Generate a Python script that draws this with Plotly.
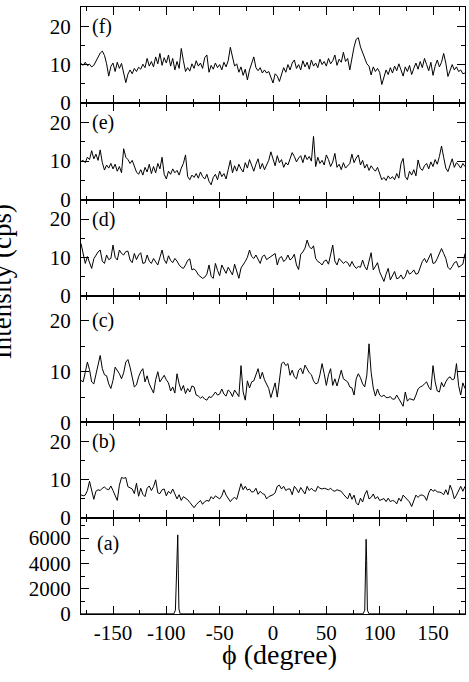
import numpy as np
import plotly.graph_objects as go

# ---------------- data ----------------
phi = np.arange(-180, 181, 2)  # 2-degree sampling grid

intensity_f = [
    10.3, 9.8, 10.6, 9.7, 10.1, 9.4, 9.8, 10.9, 12.0, 13.0,
    13.5, 12.4, 10.2, 7.0, 9.5, 10.4, 8.2, 10.6, 9.0, 10.3,
    7.8, 5.3, 7.5, 8.6, 7.6, 9.0, 8.2, 9.3, 8.8, 10.1,
    9.2, 11.6, 9.6, 10.8, 9.4, 12.0, 10.2, 12.9, 9.8, 11.8,
    10.4, 12.5, 9.6, 11.6, 8.6, 10.8, 9.0, 14.2, 11.0, 8.2,
    9.2, 8.3, 10.2, 9.0, 11.0, 9.6, 10.4, 9.0, 11.8, 12.5,
    8.0, 9.8, 8.8, 10.4, 9.2, 10.0, 8.6, 10.6, 9.4, 11.0,
    14.5, 12.2, 9.6, 10.2, 8.0, 9.4, 7.2, 8.8, 6.0, 8.6,
    10.6, 12.0, 9.2, 8.4, 9.2, 7.8, 8.6, 7.8, 8.2, 6.8,
    5.2, 7.6, 7.0, 5.6, 7.4, 9.2, 8.0, 10.0, 8.6, 10.4,
    11.2, 9.0, 10.0, 8.6, 11.0, 9.4, 10.6, 8.8, 11.2, 9.6,
    10.4, 9.2, 11.4, 10.0, 10.8, 9.6, 11.6, 10.2, 11.0, 12.5,
    9.8, 11.4, 10.6, 13.2, 10.8, 11.6, 8.6, 12.0, 14.6, 16.6,
    17.0, 14.6, 13.0, 11.4, 10.2, 9.6, 7.3, 9.4, 8.2, 9.0,
    8.0, 4.8, 6.8, 8.6, 7.4, 9.2, 7.8, 9.6, 8.4, 10.2,
    8.6, 7.0, 9.4, 8.2, 9.8, 7.4, 9.0, 10.4, 8.8, 10.8,
    9.2, 11.6, 10.0, 8.4, 10.6, 7.2, 9.6, 11.2, 9.4, 10.6,
    12.9, 10.4, 6.9, 8.8, 10.0, 8.6, 9.4, 8.2, 8.6, 7.6,
    7.8,
]

intensity_e = [
    9.9, 10.2, 9.6, 11.0, 10.4, 12.7, 10.6, 11.8, 10.2, 12.9,
    9.6, 7.7, 9.0, 8.2, 9.4, 8.0, 9.2, 7.4, 8.6, 7.0,
    13.2, 11.0, 10.4, 9.4, 10.2, 8.6, 7.2, 6.6, 7.8, 6.4,
    8.4, 7.2, 9.2, 6.8, 8.6, 7.0, 9.4, 8.0, 11.0, 6.6,
    5.4, 7.4, 6.6, 8.0, 7.0, 7.6, 6.4, 8.2, 9.4, 11.6,
    6.0, 5.2, 6.4, 5.8, 6.8, 5.6, 7.2, 6.0, 5.4, 6.6,
    4.8, 3.9, 5.8, 6.6, 5.2, 7.4, 6.0, 6.8, 5.4, 7.8,
    10.2, 7.0, 8.8, 7.4, 9.2, 8.0, 7.2, 9.6, 8.2, 10.4,
    8.6, 7.4, 9.2, 10.6, 8.0, 9.4, 7.8, 9.0, 10.2, 12.4,
    10.6, 8.8, 11.4, 9.6, 10.4, 8.4, 9.6, 9.0, 10.6, 12.2,
    11.2, 9.8, 10.8, 11.4, 9.6, 11.6, 10.4, 11.2, 10.0, 16.4,
    8.6, 11.0, 9.4, 10.2, 9.0, 11.6, 10.4, 8.6, 9.8, 12.0,
    8.4, 9.2, 7.8, 9.6, 8.2, 8.8, 9.4, 11.8, 9.6, 10.8,
    11.6, 9.0, 10.2, 8.2, 9.2, 7.6, 8.8, 8.0, 7.4, 8.4,
    6.6, 5.2, 5.8, 5.0, 6.2, 5.4, 6.0, 5.2, 6.8, 5.6,
    9.4, 10.7, 6.0, 5.2, 7.4, 6.4, 7.8, 6.2, 10.3, 8.2,
    7.6, 8.8, 9.4, 8.0, 9.8, 8.6, 10.4, 9.2, 11.2, 13.9,
    11.0, 8.2, 7.3, 9.0, 10.6, 8.4, 9.6, 9.0, 8.2, 9.4,
    8.6,
]

intensity_d = [
    13.6, 11.0, 8.4, 10.2, 8.8, 7.1, 9.6, 10.6, 11.4, 11.9,
    9.0, 8.4, 10.6, 9.4, 9.7, 13.2, 10.0, 9.3, 11.9, 11.0,
    10.6, 11.5, 11.6, 9.3, 8.6, 11.0, 9.4, 10.6, 11.2, 8.4,
    8.6, 10.6, 9.0, 8.4, 9.7, 8.8, 8.0, 10.0, 11.9, 9.4,
    8.4, 10.4, 9.2, 8.6, 9.7, 9.0, 8.0, 7.4, 7.1, 8.0,
    9.2, 9.6, 6.7, 7.0, 6.4, 5.4, 5.0, 4.5, 4.8, 5.6,
    8.0, 5.0, 4.5, 8.4, 6.6, 5.2, 8.0, 7.0, 5.8, 7.4,
    6.2, 5.4, 8.2, 6.4, 4.5, 7.2, 8.0, 8.9, 10.0, 11.9,
    10.2, 9.7, 10.6, 9.6, 8.4, 10.2, 10.6, 9.4, 9.8, 10.2,
    10.8, 11.0, 8.0, 9.8, 10.2, 8.9, 9.4, 10.6, 9.3, 9.8,
    10.8, 8.0, 6.8, 10.8, 11.4, 12.4, 14.5, 12.8, 12.2, 13.0,
    9.7, 8.9, 8.6, 8.0, 9.0, 9.3, 8.2, 10.6, 13.2, 9.0,
    8.0, 9.7, 9.0, 8.4, 8.9, 8.6, 7.6, 8.9, 7.8, 7.1,
    7.6, 7.4, 9.3, 7.6, 6.7, 9.0, 11.2, 6.7, 7.6, 8.6,
    6.2, 5.0, 3.7, 5.6, 7.1, 4.1, 5.4, 6.3, 4.4, 4.6,
    5.4, 4.3, 5.0, 6.7, 5.6, 6.0, 6.7, 5.6, 5.8, 7.2,
    8.9, 9.7, 8.6, 9.8, 11.0, 8.4, 8.6, 9.7, 11.0, 12.3,
    11.0, 9.7, 7.4, 6.8, 7.6, 8.6, 8.9, 7.4, 7.8, 8.2,
    11.0,
]

intensity_c = [
    8.3, 8.0, 9.9, 11.9, 10.4, 8.0, 7.6, 9.5, 11.1, 13.2,
    10.6, 9.4, 9.2, 7.6, 6.7, 8.3, 10.9, 10.3, 9.6, 8.6,
    9.8, 11.9, 12.4, 10.9, 8.6, 7.0, 7.4, 9.0, 10.0, 10.6,
    8.0, 9.2, 7.6, 6.6, 5.8, 8.4, 10.0, 8.0, 8.6, 9.3,
    8.4, 7.8, 6.2, 7.0, 5.8, 9.6, 7.6, 6.3, 7.3, 5.7,
    6.7, 6.0, 7.2, 7.0, 5.4, 5.2, 4.8, 5.1, 4.6, 4.4,
    5.1, 4.9, 5.4, 6.0, 5.4, 5.6, 6.6, 5.6, 5.2, 6.4,
    6.0, 5.1, 6.4, 5.8, 5.1, 11.2, 6.0, 4.4, 8.2, 6.8,
    8.0, 8.2, 9.4, 10.6, 8.6, 9.9, 8.4, 7.6, 6.7, 4.9,
    6.2, 7.8, 5.0, 9.0, 11.6, 11.9, 11.2, 11.6, 9.3, 10.3,
    9.0, 8.6, 10.3, 10.7, 9.6, 11.3, 10.6, 9.8, 9.4, 8.2,
    7.6, 7.8, 9.4, 11.6, 9.6, 7.3, 9.4, 10.6, 7.3, 8.6,
    7.2, 8.9, 10.3, 8.6, 8.3, 8.0, 7.0, 6.8, 5.4, 8.6,
    9.6, 8.8, 7.6, 7.0, 9.4, 15.5, 9.9, 6.8, 5.2, 6.6,
    5.4, 5.1, 5.4, 4.9, 4.9, 5.1, 4.6, 4.6, 5.4, 4.6,
    4.0, 3.2, 6.0, 4.2, 4.7, 4.6, 4.4, 5.4, 6.6, 7.0,
    7.2, 7.6, 8.0, 7.0, 6.4, 11.2, 8.0, 6.2, 6.0, 7.9,
    7.0, 8.0, 8.7, 9.0, 8.4, 8.6, 11.6, 7.3, 5.4, 7.8,
    6.7,
]

intensity_b = [
    6.1, 5.8, 6.0, 7.2, 9.6, 7.2, 4.9, 7.0, 7.4, 7.2,
    7.8, 8.1, 7.6, 7.4, 8.4, 7.2, 6.0, 4.6, 8.6, 10.6,
    10.4, 10.6, 8.2, 7.8, 7.6, 6.4, 9.1, 5.7, 7.8, 6.2,
    5.6, 7.8, 8.4, 7.2, 8.2, 10.0, 6.6, 6.4, 7.4, 7.6,
    5.8, 7.0, 6.4, 7.6, 6.4, 5.0, 6.1, 4.6, 5.6, 5.2,
    4.8, 4.1, 3.5, 2.7, 3.5, 4.1, 4.6, 3.6, 4.3, 4.6,
    4.4, 5.6, 5.0, 5.8, 5.4, 5.0, 5.8, 7.4, 6.0, 5.0,
    4.3, 5.0, 5.4, 4.9, 7.2, 9.0, 7.4, 8.3, 7.3, 7.6,
    6.8, 6.9, 7.8, 6.2, 7.0, 6.4, 6.2, 5.0, 5.6, 5.8,
    6.1, 6.6, 8.3, 8.6, 7.6, 8.3, 7.2, 7.6, 7.6, 6.1,
    8.3, 7.6, 6.6, 8.0, 7.2, 6.3, 8.3, 7.2, 7.8, 7.2,
    7.0, 8.3, 7.8, 7.6, 7.8, 7.6, 7.4, 7.8, 7.2, 7.0,
    7.4, 7.2, 7.0, 6.2, 5.6, 5.0, 6.5, 4.9, 6.0, 4.0,
    3.4, 5.2, 4.2, 6.1, 7.2, 5.0, 5.4, 6.3, 5.0, 5.6,
    4.6, 4.9, 5.1, 4.3, 5.2, 4.3, 4.6, 4.4, 3.7, 5.2,
    4.4, 6.0, 5.4, 4.6, 4.2, 3.0, 4.8, 6.0, 5.4, 6.0,
    6.0, 5.7, 4.6, 6.6, 7.6, 7.0, 7.4, 6.8, 6.8, 6.6,
    6.1, 7.4, 6.1, 8.6, 7.2, 5.0, 6.0, 7.4, 8.3, 7.0,
    8.3,
]

phi_a = [-180, -120, -93, -91.5, -90.5, -89.8, -89.3, -88.8, -88.2, -87, -40,
         40, 84.5, 86, 86.8, 87.3, 87.8, 88.5, 90, 120, 180]
intensity_a = [10, 10, 12, 300, 3200, 6000, 6250, 3500, 400, 12, 10,
               10, 12, 300, 3500, 5900, 4200, 300, 12, 10, 10]

panel_labels = ["(f)", "(e)", "(d)", "(c)", "(b)", "(a)"]
x_tick_vals = [-150, -100, -50, 0, 50, 100, 150]
x_tick_text = ["-150", "-100", "-50", "0", "50", "100", "150"]
x_minor_vals = [-175, -125, -75, -25, 25, 75, 125, 175]
y_tick_vals_low = [0, 10, 20]
y_minor_vals_low = [5, 15, 25]
y_tick_vals_a = [0, 2000, 4000, 6000]
y_minor_vals_a = [1000, 3000, 5000, 7000]
x_title = "\u03d5 (degree)"
y_title = "Intensity (cps)"

# ---------------- figure ----------------
FONT = "Liberation Serif"
series = [(phi, intensity_f), (phi, intensity_e), (phi, intensity_d),
          (phi, intensity_c), (phi, intensity_b), (phi_a, intensity_a)]

# panel pixel boundaries (top->bottom) converted to paper fractions
domains = [(0.8419, 1.0), (0.6822, 0.8419), (0.5246, 0.6822),
           (0.3155, 0.5246), (0.1581, 0.3155), (0.0, 0.1581)]
yranges = [[0, 25]] * 5 + [[0, 7580]]

fig = go.Figure()
layout = dict(
    width=469, height=682,
    margin=dict(l=81, r=4, t=7, b=68),
    paper_bgcolor="white", plot_bgcolor="white",
    showlegend=False,
    font=dict(family=FONT, size=21, color="black"),
)

for i, (xs, ys) in enumerate(series):
    k = i + 1
    sfx = "" if k == 1 else str(k)
    fig.add_trace(go.Scatter(x=xs, y=ys, mode="lines",
                             line=dict(color="black", width=1),
                             xaxis="x" + sfx, yaxis="y" + sfx,
                             hoverinfo="skip"))
    bottom = (k == 6)
    layout["xaxis" + sfx] = dict(
        domain=[0, 1], anchor="y" + sfx, range=[-180, 180],
        showgrid=False, zeroline=False, showline=True, linecolor="black",
        linewidth=1, mirror="allticks", ticks="inside", ticklen=8,
        tickwidth=1, tickcolor="black",
        tickmode="array", tickvals=x_tick_vals, ticktext=x_tick_text,
        showticklabels=bottom, tickfont=dict(family=FONT, size=21),
        ticklabelstandoff=0,
        minor=dict(tickmode="array", tickvals=x_minor_vals, ticks="inside",
                   ticklen=4, tickwidth=1, tickcolor="black", showgrid=False),
    )
    if k < 6:
        tv, mv, tt = y_tick_vals_low, y_minor_vals_low, [str(v) for v in y_tick_vals_low]
    else:
        tv, mv, tt = y_tick_vals_a, y_minor_vals_a, [str(v) for v in y_tick_vals_a]
    layout["yaxis" + sfx] = dict(
        domain=list(domains[i]), anchor="x" + sfx, range=yranges[i],
        showgrid=False, zeroline=False, showline=True, linecolor="black",
        linewidth=1, mirror="allticks", ticks="inside", ticklen=8,
        tickwidth=1, tickcolor="black",
        tickmode="array", tickvals=tv, ticktext=tt,
        tickfont=dict(family=FONT, size=21), ticklabelstandoff=5,
        minor=dict(tickmode="array", tickvals=mv, ticks="inside",
                   ticklen=4, tickwidth=1, tickcolor="black", showgrid=False),
    )

annotations = []
for i, lab in enumerate(panel_labels):
    k = i + 1
    sfx = "" if k == 1 else str(k)
    if k < 6:
        ax, ay = -172, 20
    else:
        ax, ay = -167, 5550
    annotations.append(dict(text=lab, x=ax, y=ay, xref="x" + sfx, yref="y" + sfx,
                            xanchor="left", yanchor="middle", showarrow=False,
                            font=dict(family=FONT, size=20, color="black")))

annotations.append(dict(text=x_title, x=0.518, y=-0.066, xref="paper", yref="paper",
                        xanchor="center", yanchor="middle", showarrow=False,
                        font=dict(family=FONT, size=28, color="black")))
annotations.append(dict(text=y_title, x=-0.205, y=0.547, xref="paper", yref="paper",
                        xanchor="center", yanchor="middle", showarrow=False,
                        textangle=-90,
                        font=dict(family=FONT, size=27, color="black")))
layout["annotations"] = annotations

fig.update_layout(**layout)
fig.write_html("out.html")
